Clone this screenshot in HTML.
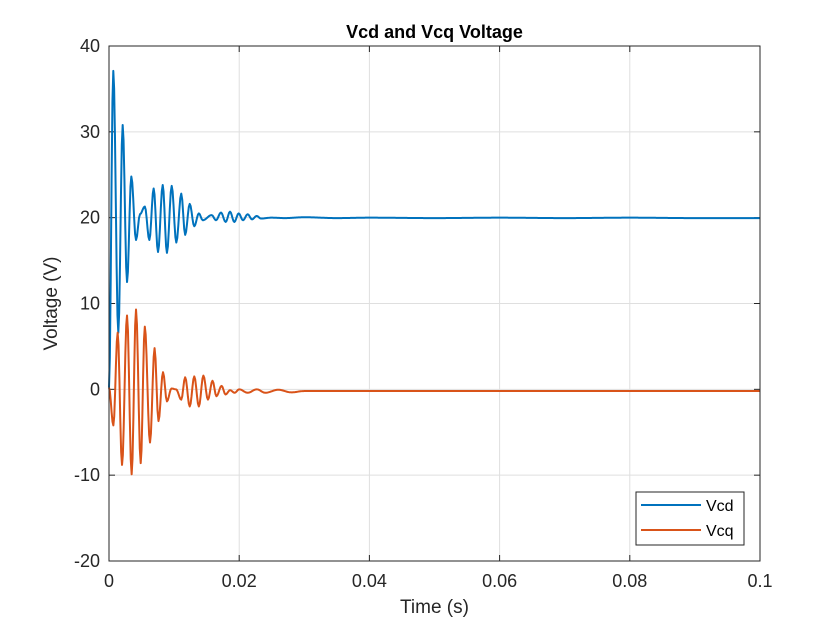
<!DOCTYPE html>
<html><head><meta charset="utf-8"><style>
body{margin:0;background:#fff;}
svg text{font-family:"Liberation Sans",sans-serif;}
</style></head><body>
<svg id="chart" width="840" height="630" xmlns="http://www.w3.org/2000/svg"></svg>
<script>
const xTicks=[0,0.02,0.04,0.06,0.08,0.1];
const xTickLabels=["0","0.02","0.04","0.06","0.08","0.1"];
const yTicks=[-20,-10,0,10,20,30,40];
const yTickLabels=["-20","-10","0","10","20","30","40"];
const vcdT=[0,.00066,.00143,.0021,.00277,.00343,.00415,.00476,.0055,.0062,.00686,.00753,.00825,.0089,.00963,.01034,.0111,.0117,.0124,.0131,.0138,.0144,.01577,.01644,.0172,.01792,.01859,.01925,.01992,.02058,.0213,.02197,.02268,.02335,.025,.027,.03,.035,.04,.05,.06,.07,.08,.09,.1];
const vcdV=[0.2,37.1,6.6,30.8,12.5,24.8,17.4,20.4,21.3,17.4,23.4,16,23.8,15.9,23.7,17.1,22.8,18,21.6,19,20.5,19.7,20.3,19.7,20.6,19.5,20.7,19.5,20.5,19.7,20.4,19.8,20.2,19.9,20.0,19.95,20.05,19.95,20.0,19.95,20.0,19.95,20.0,19.95,19.95];
const vcqT=[0,.00067,.00133,.002,.00277,.00348,.00415,.00487,.0055,.0063,.007,.0076,.0083,.0089,.0096,.0103,.0111,.0117,.0124,.0131,.0138,.0145,.0152,.0159,.0165,.0173,.0179,.0186,.0193,.02,.0213,.0227,.024,.026,.028,.03,.04,.06,.08,.1];
const vcqV=[0.2,-4.2,6.6,-8.8,8.6,-9.9,9.3,-8.6,7.3,-6.2,4.8,-3.7,2.0,-1.4,0.1,0.0,-1.2,1.4,-2.0,1.5,-2.0,1.6,-1.2,1.0,-0.8,0.4,-0.6,-0.1,-0.4,0.0,-0.4,0.0,-0.4,-0.05,-0.35,-0.2,-0.2,-0.2,-0.2,-0.2];

const L=109,R=760,T=46,B=561;
const xs=t=>L+(t-0)/(0.1)*(R-L);
const ys=v=>B-(v+20)/60*(B-T);
const svg=document.getElementById('chart');
const NS='http://www.w3.org/2000/svg';
function mk(tag,attrs,parent){const e=document.createElementNS(NS,tag);for(const k in attrs)e.setAttribute(k,attrs[k]);(parent||svg).appendChild(e);return e;}

xTicks.forEach((t,i)=>{
  if(i>0&&i<xTicks.length-1){const g=mk('line',{x1:xs(t),x2:xs(t),y1:T,y2:B,stroke:'#dfdfdf','stroke-width':1});
  
  }
  const tk=mk('line',{x1:xs(t),x2:xs(t),y1:B,y2:B-6,stroke:'#262626'});
  
  
  const tk2=mk('line',{x1:xs(t),x2:xs(t),y1:T,y2:T+6,stroke:'#262626'});
  
  
  const tx=mk('text',{x:xs(t),y:B+26,'text-anchor':'middle','font-size':18,fill:'#262626'});
  tx.textContent=xTickLabels[i];
  
  
});
yTicks.forEach((v,i)=>{
  if(i>0&&i<yTicks.length-1){const g=mk('line',{x1:L,x2:R,y1:ys(v),y2:ys(v),stroke:'#dfdfdf','stroke-width':1});
  
  }
  const tk=mk('line',{x1:L,x2:L+6,y1:ys(v),y2:ys(v),stroke:'#262626'});
  
  
  const tk2=mk('line',{x1:R,x2:R-6,y1:ys(v),y2:ys(v),stroke:'#262626'});
  
  
  const tx=mk('text',{x:L-9,y:ys(v)+6,'text-anchor':'end','font-size':18,fill:'#262626'});
  tx.textContent=yTickLabels[i];
  
  
});

function pathFor(T_,V_){
  let d='M'+xs(T_[0]).toFixed(2)+','+ys(V_[0]).toFixed(2);
  for(let i=1;i<T_.length;i++){
    const x0=xs(T_[i-1]),x1=xs(T_[i]),y0=ys(V_[i-1]),y1=ys(V_[i]);
    const n=Math.max(2,Math.ceil((x1-x0)));
    for(let k=1;k<=n;k++){const f=k/n;const s=(1-Math.cos(Math.PI*f))/2;
      d+='L'+(x0+(x1-x0)*f).toFixed(2)+','+(y0+(y1-y0)*s).toFixed(2);}
  }
  return d;
}
const p1=mk('path',{d:pathFor(vcdT,vcdV),fill:'none',stroke:'#0072bd','stroke-width':2,'stroke-linejoin':'round'});


const p2=mk('path',{d:pathFor(vcqT,vcqV),fill:'none',stroke:'#d95319','stroke-width':2,'stroke-linejoin':'round'});



const box=mk('rect',{x:L,y:T,width:R-L,height:B-T,fill:'none',stroke:'#262626','stroke-width':1});



const title=mk('text',{x:(L+R)/2,y:38,'text-anchor':'middle','font-size':18,'font-weight':'bold',fill:'#000'});
title.textContent='Vcd and Vcq Voltage';


const xl=mk('text',{x:(L+R)/2,y:613,'text-anchor':'middle','font-size':19,fill:'#262626'});
xl.textContent='Time (s)';


const yl=mk('text',{x:0,y:0,'text-anchor':'middle','font-size':19,fill:'#262626',transform:'translate(57,'+((T+B)/2)+') rotate(-90)'});
yl.textContent='Voltage (V)';



const lg=mk('g',{});


mk('rect',{x:636,y:492,width:108,height:53,fill:'#fff',stroke:'#262626','stroke-width':1},lg);
const names=['Vcd','Vcq'],cols=['#0072bd','#d95319'];
names.forEach((n,i)=>{
  const g=mk('g',{},lg);
  
  
  const y=505+i*25;
  mk('line',{x1:641,x2:701,y1:y,y2:y,stroke:cols[i],'stroke-width':2},g);
  const t=mk('text',{x:706,y:y+6,'font-size':16,fill:'#000'},g);
  t.textContent=n;
});
</script>
</body></html>
